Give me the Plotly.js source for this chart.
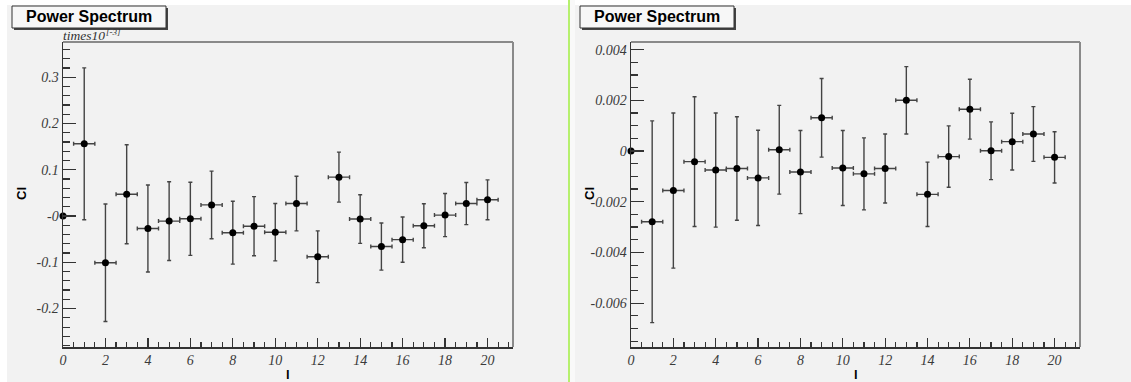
<!DOCTYPE html>
<html>
<head>
<meta charset="utf-8">
<script src="https://cdn.plot.ly/plotly-3.0.1.min.js"></script>
<style>
  html, body { margin: 0; padding: 0; background: #ffffff; width: 1131px; height: 382px; overflow: hidden; }
  #left { position: absolute; left: 7px; top: 5px; width: 561px; height: 377px; }
  #right { position: absolute; left: 575px; top: 5px; width: 556px; height: 377px; }
  #sep { position: absolute; left: 568px; top: 0px; width: 2px; height: 382px; background: #b6f06e; }
  #strip { position: absolute; left: 570px; top: 0px; width: 5px; height: 382px; background: #f9f9f9; }
</style>
</head>
<body>
<div id="strip"></div>
<div id="sep"></div>
<div id="left"></div>
<div id="right"></div>
<script>
// ---- data ----
const ell = [0, 1, 2, 3, 4, 5, 6, 7, 8, 9, 10, 11, 12, 13, 14, 15, 16, 17, 18, 19, 20];
const ellErr = [0, 0.5, 0.5, 0.5, 0.5, 0.5, 0.5, 0.5, 0.5, 0.5, 0.5, 0.5, 0.5, 0.5, 0.5, 0.5, 0.5, 0.5, 0.5, 0.5, 0.5];

// left panel (axis scaled by 10^-3)
const clLeft = [0, 0.156, -0.101, 0.047, -0.027, -0.011, -0.006, 0.024, -0.036, -0.022, -0.035, 0.027, -0.088, 0.084, -0.0065, -0.066, -0.051, -0.021, 0.002, 0.027, 0.035];
const clLeftErr = [0, 0.164, 0.127, 0.107, 0.094, 0.085, 0.079, 0.073, 0.068, 0.064, 0.062, 0.059, 0.056, 0.054, 0.0525, 0.051, 0.049, 0.0475, 0.0465, 0.0455, 0.043];

// right panel
const clRight = [0, -0.00279, -0.00156, -0.00042, -0.00075, -0.00069, -0.00106, 0.00005, -0.00083, 0.00131, -0.00067, -0.00090, -0.00069, 0.00200, -0.00171, -0.00022, 0.00165, 0.00001, 0.00037, 0.00067, -0.00025];
const clRightErr = [0, 0.00398, 0.00306, 0.00256, 0.00225, 0.00204, 0.00188, 0.00175, 0.00164, 0.00155, 0.00148, 0.00142, 0.00136, 0.00133, 0.00127, 0.00121, 0.00118, 0.00114, 0.00112, 0.00108, 0.00101];

// tick labels
const leftTickVals = [-0.2, -0.1, 0, 0.1, 0.2, 0.3];
const leftTickText = ['-0.2', '-0.1', '-0', '0.1', '0.2', '0.3'];
const rightTickVals = [-0.006, -0.004, -0.002, 0, 0.002, 0.004];
const rightTickText = ['-0.006', '-0.004', '-0.002', '0', '0.002', '0.004'];

const titleText = 'Power Spectrum';
const yTitle = 'Cl';
const xTitle = 'l';
const scaleBase = 'times10';
const scaleExp = '[-3]';

// ---- drawing ----
function panel(divId, W, H, m, y, yErr, yRange, tickVals, tickText, yMinor, extraAnn) {
  const pw = W - m.l - m.r, ph = H - m.t - m.b;
  const fx = px => (px - m.l) / pw;
  const fy = py => 1 - (py - m.t) / ph;
  const tickFont = { family: 'Liberation Serif', size: 14, color: '#3a3a3a', style: 'italic' };

  const trace = {
    x: ell, y: y, type: 'scatter', mode: 'markers', cliponaxis: false,
    marker: { color: '#000', size: 7 },
    error_y: { type: 'data', array: yErr, visible: true, color: '#444', thickness: 1.4, width: 2 },
    error_x: { type: 'data', array: ellErr, visible: true, color: '#444', thickness: 1.4, width: 2 },
    hoverinfo: 'skip'
  };

  const shapes = [
    { type: 'line', xref: 'paper', yref: 'paper', x0: 0, x1: 1, y0: 1, y1: 1, line: { color: '#8a8a8a', width: 2 } },
    { type: 'line', xref: 'paper', yref: 'paper', x0: 1, x1: 1, y0: 0, y1: 1, line: { color: '#8a8a8a', width: 2 } },
    { type: 'rect', xref: 'paper', yref: 'paper', x0: fx(7), x1: fx(161), y0: fy(3), y1: fy(25), fillcolor: '#444', line: { width: 0 } },
    { type: 'rect', xref: 'paper', yref: 'paper', x0: fx(5), x1: fx(159), y0: fy(1), y1: fy(23), fillcolor: '#f7f7f7', line: { color: '#333', width: 1 } }
  ];

  const annotations = [
    { text: titleText, xref: 'paper', yref: 'paper', x: fx(82), y: fy(11.5), xanchor: 'center', yanchor: 'middle', showarrow: false, borderpad: 0,
      font: { family: 'Liberation Sans', size: 16, color: '#000', weight: 'bold' } },
    { text: yTitle, xref: 'paper', yref: 'paper', x: fx(14), y: fy(189), textangle: -90, xanchor: 'center', yanchor: 'middle', showarrow: false,
      font: { family: 'Liberation Sans', size: 13, color: '#000', weight: 'bold' } },
    { text: xTitle, xref: 'paper', yref: 'paper', x: fx(281), y: fy(369), xanchor: 'center', yanchor: 'middle', showarrow: false,
      font: { family: 'Liberation Sans', size: 13, color: '#000', weight: 'bold' } }
  ].concat(extraAnn ? extraAnn(fx, fy) : []);

  const layout = {
    width: W, height: H, margin: m, showlegend: false,
    paper_bgcolor: '#f2f2f2', plot_bgcolor: '#f2f2f2',
    xaxis: {
      range: [0, 21.2], tickmode: 'linear', tick0: 0, dtick: 2,
      ticks: 'inside', ticklen: 9, tickwidth: 1.2, tickcolor: '#333',
      minor: { tick0: 0, dtick: 0.5, ticks: 'inside', ticklen: 5, tickwidth: 1.2, tickcolor: '#333' },
      showline: true, linecolor: '#333', linewidth: 1.5, showgrid: false, zeroline: false,
      tickfont: tickFont, fixedrange: true
    },
    yaxis: {
      range: yRange, tickmode: 'array', tickvals: tickVals, ticktext: tickText,
      ticks: 'inside', ticklen: 13, tickwidth: 1.2, tickcolor: '#333',
      minor: { tick0: 0, dtick: yMinor, ticks: 'inside', ticklen: 7, tickwidth: 1.2, tickcolor: '#333' },
      showline: true, linecolor: '#333', linewidth: 1.5, showgrid: false, zeroline: false,
      tickfont: tickFont, fixedrange: true
    },
    shapes: shapes, annotations: annotations
  };
  Plotly.newPlot(divId, [trace], layout, { displayModeBar: false, staticPlot: true });
}

panel('left', 561, 377, { l: 56, r: 55, t: 37, b: 35, pad: 0 }, clLeft, clLeftErr, [-0.283, 0.376], leftTickVals, leftTickText, 0.02,
  (fx, fy) => [
    { text: scaleBase, xref: 'paper', yref: 'paper', x: fx(55), y: fy(38.5), xanchor: 'left', yanchor: 'bottom', showarrow: false, borderpad: 0,
      font: { family: 'Liberation Serif', size: 13.5, color: '#333', style: 'italic' } },
    { text: scaleExp, xref: 'paper', yref: 'paper', x: fx(98), y: fy(33), xanchor: 'left', yanchor: 'bottom', showarrow: false, borderpad: 0,
      font: { family: 'Liberation Serif', size: 9, color: '#333', style: 'italic' } }
  ]);
panel('right', 556, 377, { l: 56, r: 51, t: 37, b: 35, pad: 0 }, clRight, clRightErr, [-0.00773, 0.0043], rightTickVals, rightTickText, 0.0005, null);
</script>
</body>
</html>
